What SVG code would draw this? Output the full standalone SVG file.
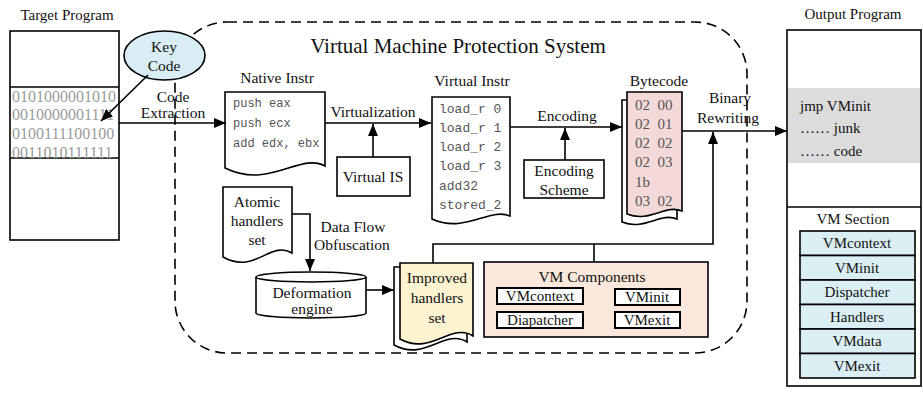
<svg xmlns="http://www.w3.org/2000/svg" width="923" height="394" viewBox="0 0 923 394">
<style>
text{font-family:"Liberation Serif","Times New Roman",serif;fill:#111}
.lbl{font-size:15.5px;text-anchor:middle}
.title{font-size:21px;text-anchor:middle}
.bin{font-size:16px;fill:#9a9a9a}
.code{font-family:"Liberation Mono","Courier New",monospace;font-size:13px;fill:#555}
.nat{font-size:12px}
.byte{font-size:15px;fill:#555}
.cell{font-size:15px;text-anchor:middle}
.box{fill:#fff;stroke:#000;stroke-width:1.6}
.ln{fill:none;stroke:#000;stroke-width:1.6}
.arr{fill:none;stroke:#000;stroke-width:1.6;marker-end:url(#ah)}
</style>
<defs>
<marker id="ah" markerUnits="userSpaceOnUse" markerWidth="13" markerHeight="10" refX="12" refY="5" orient="auto">
<path d="M0,0 L12,5 L0,10 Z" fill="#000"/>
</marker>
<clipPath id="tpclip"><rect x="11" y="88" width="107" height="70"/></clipPath>
</defs>
<rect width="923" height="394" fill="#fff"/>

<g id="vm-system">
<rect x="175" y="22" width="572" height="331" rx="52" fill="none" stroke="#000" stroke-width="1.6" stroke-dasharray="10 6"/>
<text class="title" x="458" y="53">Virtual Machine Protection System</text>
</g>

<g id="target-program">
<text class="lbl" x="67" y="20" style="font-size:15px">Target Program</text>
<rect class="box" x="10" y="31" width="109" height="209"/>
<line class="ln" x1="10" y1="87" x2="119" y2="87"/>
<line class="ln" x1="10" y1="158" x2="119" y2="158"/>
<g clip-path="url(#tpclip)">
<text class="bin" x="12" y="102">0101000001010</text>
<text class="bin" x="12" y="120">0010000001111</text>
<text class="bin" x="12" y="139">0100111100100</text>
<text class="bin" x="12" y="158">0011010111111</text>
</g>
</g>

<g id="key-code">
<ellipse cx="164.5" cy="55.5" rx="40.5" ry="24.5" fill="#d9edf4" stroke="#000" stroke-width="1.6"/>
<text class="lbl" x="164" y="52">Key</text>
<text class="lbl" x="164" y="71">Code</text>
</g>

<g id="native-instr">
<text class="lbl" x="277" y="83">Native Instr</text>
<path class="box" d="M225,92 H325 V166 C300,152 270,190 225,168 Z"/>
<text class="code nat" x="233" y="107">push eax</text>
<text class="code nat" x="233" y="127">push ecx</text>
<text class="code nat" x="233" y="147">add edx, ebx</text>
</g>

<g id="virtual-is">
<rect class="box" x="337" y="157" width="73" height="39"/>
<text class="lbl" x="373" y="182">Virtual IS</text>
</g>

<g id="virtual-instr">
<text class="lbl" x="472" y="86">Virtual Instr</text>
<path class="box" d="M432,97 H510 V216 C490,207 465,234 432,219 Z"/>
<text class="code" x="439" y="113">load_r 0</text>
<text class="code" x="439" y="132">load_r 1</text>
<text class="code" x="439" y="151">load_r 2</text>
<text class="code" x="439" y="170">load_r 3</text>
<text class="code" x="439" y="190">add32</text>
<text class="code" x="439" y="209">stored_2</text>
</g>

<g id="encoding-scheme">
<rect class="box" x="524" y="160" width="80" height="38"/>
<text class="lbl" x="564" y="176">Encoding</text>
<text class="lbl" x="564" y="195">Scheme</text>
</g>

<g id="bytecode">
<text class="lbl" x="659" y="86">Bytecode</text>
<path class="box" d="M622,100 H677 V219 C660,212 645,231 622,222 Z"/>
<path d="M627,92 H682 V211 C665,204 650,223 627,214 Z" fill="#f3d9d8" stroke="#000" stroke-width="1.6"/>
<text class="byte" x="635" y="110" xml:space="preserve">02  00</text>
<text class="byte" x="635" y="129" xml:space="preserve">02  01</text>
<text class="byte" x="635" y="148" xml:space="preserve">02  02</text>
<text class="byte" x="635" y="167" xml:space="preserve">02  03</text>
<text class="byte" x="635" y="187">1b</text>
<text class="byte" x="635" y="206" xml:space="preserve">03  02</text>
</g>

<g id="atomic-handlers">
<path class="box" d="M223,187 H292 V253 C270,240 255,275 223,257 Z"/>
<text class="lbl" x="257" y="207">Atomic</text>
<text class="lbl" x="257" y="226">handlers</text>
<text class="lbl" x="257" y="245">set</text>
</g>

<g id="deformation-engine">
<path class="box" d="M256,277 V313 A55,5 0 0 0 366,313 V277"/>
<ellipse cx="311" cy="277" rx="55" ry="5" fill="#fff" stroke="#000" stroke-width="1.6"/>
<text class="lbl" x="312" y="298">Deformation</text>
<text class="lbl" x="312" y="314">engine</text>
</g>

<g id="improved-handlers">
<path class="box" d="M394,267 H467 V342 C445,328 425,362 394,345 Z"/>
<path d="M400,263 H473 V336 C451,322 431,356 400,339 Z" fill="#fdf3d1" stroke="#000" stroke-width="1.6"/>
<text class="lbl" x="437" y="283">Improved</text>
<text class="lbl" x="437" y="303">handlers</text>
<text class="lbl" x="437" y="323">set</text>
</g>

<g id="vm-components">
<rect x="484" y="262" width="224" height="75" fill="#fbe8dc" stroke="#000" stroke-width="1.6"/>
<text class="lbl" x="592" y="282">VM Components</text>
<rect x="497" y="288" width="86" height="16" fill="#fff" stroke="#000" stroke-width="2"/>
<text class="cell" x="540" y="301">VMcontext</text>
<rect x="615" y="289" width="65" height="16" fill="#fff" stroke="#000" stroke-width="2"/>
<text class="cell" x="647" y="302">VMinit</text>
<rect x="497" y="312" width="86" height="16" fill="#fff" stroke="#000" stroke-width="2"/>
<text class="cell" x="540" y="325">Diapatcher</text>
<rect x="615" y="312" width="65" height="16" fill="#fff" stroke="#000" stroke-width="2"/>
<text class="cell" x="647" y="325">VMexit</text>
</g>

<g id="output-program">
<text class="lbl" x="853" y="19" style="font-size:15px">Output Program</text>
<rect class="box" x="787" y="30" width="134" height="356"/>
<rect x="788" y="88" width="132" height="75" fill="#dcdcdc"/>
<text x="800" y="111" style="font-size:15px">jmp VMinit</text>
<text x="800" y="133" style="font-size:15px">…… junk</text>
<text x="800" y="156" style="font-size:15px">…… code</text>
<line class="ln" x1="787" y1="207" x2="921" y2="207"/>
<text class="cell" x="853" y="224">VM Section</text>
<g fill="#daeef3" stroke="#000" stroke-width="1.6">
<rect x="800" y="231" width="115" height="24.5"/>
<rect x="800" y="255.5" width="115" height="24.5"/>
<rect x="800" y="280" width="115" height="24.5"/>
<rect x="800" y="304.5" width="115" height="24.5"/>
<rect x="800" y="329" width="115" height="24.5"/>
<rect x="800" y="353.5" width="115" height="24.5"/>
</g>
<text class="cell" x="857" y="248">VMcontext</text>
<text class="cell" x="857" y="273">VMinit</text>
<text class="cell" x="857" y="297">Dispatcher</text>
<text class="cell" x="857" y="322">Handlers</text>
<text class="cell" x="857" y="346">VMdata</text>
<text class="cell" x="857" y="371">VMexit</text>
</g>

<g id="connectors">
<line class="arr" x1="148" y1="75" x2="101" y2="121"/>
<line class="arr" x1="119" y1="123" x2="226" y2="123"/>
<line class="arr" x1="325" y1="123" x2="431" y2="123"/>
<line class="arr" x1="373" y1="157" x2="373" y2="124"/>
<line class="arr" x1="510" y1="127" x2="622" y2="127"/>
<line class="arr" x1="565" y1="160" x2="565" y2="128"/>
<line class="arr" x1="682" y1="131" x2="787" y2="131"/>
<polyline class="arr" points="433,263 433,244 713,244 713,132"/>
<line class="ln" x1="594" y1="262" x2="594" y2="244"/>
<polyline class="arr" points="292,214 310,214 310,271"/>
<line class="arr" x1="366" y1="290" x2="394" y2="290"/>
<text class="lbl" x="173" y="102">Code</text>
<text class="lbl" x="173" y="118">Extraction</text>
<text class="lbl" x="373" y="117">Virtualization</text>
<text class="lbl" x="567" y="121">Encoding</text>
<text class="lbl" x="730" y="103">Binary</text>
<text class="lbl" x="728" y="123">Rewriting</text>
<text class="lbl" x="353" y="232">Data Flow</text>
<text class="lbl" x="352" y="250">Obfuscation</text>
</g>
</svg>
